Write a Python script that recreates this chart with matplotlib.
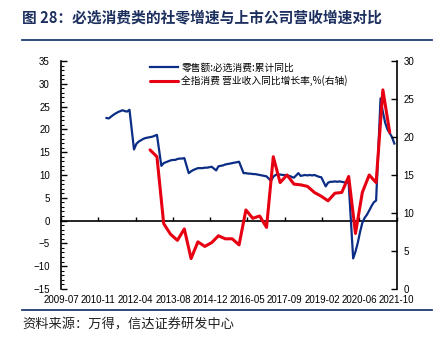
import matplotlib.pyplot as plt
import matplotlib.dates as mdates
from matplotlib.lines import Line2D
from matplotlib.ticker import MultipleLocator
import numpy as np
import pandas as pd

plt.rcParams['font.family'] = ['Noto Sans CJK SC', 'DejaVu Sans']
plt.rcParams['axes.unicode_minus'] = True

# 零售额:必选消费:累计同比 (monthly, Feb..Dec, no January value)
retail_2011 = [22.5, 22.4, 22.8, 23.2, 23.5, 23.8, 24.0, 24.2, 24.0, 23.9, 24.3]
retail_2012 = [15.6, 16.8, 17.3, 17.6, 17.9, 18.1, 18.2, 18.3, 18.4, 18.6, 18.8]
retail_2013 = [12.0, 12.6, 12.8, 13.0, 13.2, 13.3, 13.3, 13.5, 13.6, 13.6, 13.7]
retail_2014 = [10.4, 10.8, 11.1, 11.3, 11.5, 11.5, 11.5, 11.6, 11.6, 11.7, 11.8]
retail_2015 = [11.0, 11.9, 12.0, 12.1, 12.3, 12.4, 12.5, 12.6, 12.7, 12.8, 12.9]
retail_2016 = [10.4, 10.4, 10.3, 10.3, 10.2, 10.2, 10.1, 10.0, 9.9, 9.8, 9.7]
retail_2017 = [8.7, 9.6, 10.0, 10.1, 10.1, 10.0, 10.0, 9.9, 9.8, 9.6, 9.4]
retail_2018 = [10.4, 9.8, 9.9, 10.0, 9.9, 10.0, 9.9, 10.0, 9.8, 9.6, 9.5]
retail_2019 = [7.5, 8.3, 8.5, 8.5, 8.6, 8.5, 8.6, 8.5, 8.4, 8.4, 8.2]
retail_2020 = [-8.3, -6.8, -4.9, -2.5, -0.5, 0.6, 1.3, 2.2, 3.2, 4.0, 4.4]
retail_2021 = [26.8, 23.8, 21.5, 20.0, 19.2, 18.3, 16.9]

# 全指消费 营业收入同比增长率 (quarterly, 2012Q3..2021Q2), right axis
revenue = [18.3, 17.4,
           8.6, 7.2, 6.4, 7.9,
           4.0, 6.2, 5.6, 6.1,
           7.0, 6.6, 6.6, 5.8,
           10.4, 9.3, 9.6, 8.1,
           17.4, 14.0, 15.0, 13.8,
           13.7, 13.5, 12.7, 12.2,
           11.6, 12.6, 12.7, 14.8,
           7.3, 12.7, 15.0, 14.0,
           26.2, 20.6]

xtick_labels = ['2009-07', '2010-11', '2012-04', '2013-08', '2014-12',
                '2016-05', '2017-09', '2019-02', '2020-06', '2021-10']

retail = (retail_2011 + retail_2012 + retail_2013 + retail_2014 + retail_2015 +
          retail_2016 + retail_2017 + retail_2018 + retail_2019 + retail_2020 +
          retail_2021)
retail_dates = pd.date_range('2011-02-28', '2021-08-31', freq='ME')
retail_dates = retail_dates[retail_dates.month != 1]
revenue_dates = pd.date_range('2012-09-30', '2021-06-30', freq='QE')

navy = '#0b2d86'
red = '#e60012'

fig = plt.figure(figsize=(4.44, 3.44), dpi=100)
ax = fig.add_axes([0.1374, 0.160, 0.756, 0.6627])

ax.plot(retail_dates, retail, color=navy, lw=1.6, solid_joinstyle='round',
        label='零售额:必选消费:累计同比')
ax2 = ax.twinx()
ax2.plot(revenue_dates, revenue, color=red, lw=2.2, solid_joinstyle='round',
         solid_capstyle='round', label='全指消费 营业收入同比增长率,%(右轴)')

x0 = mdates.date2num(pd.Timestamp('2009-07-01'))
x1 = mdates.date2num(pd.Timestamp('2021-10-01'))
ticks = np.linspace(x0, x1, len(xtick_labels))
ax.set_xlim(x0, x1)
ax.set_xticks(ticks)
ax.set_xticklabels(xtick_labels)
ax.tick_params(axis='x', length=0, labelsize=7, pad=4)

ax.set_ylim(-15, 35)
ax.set_yticks(range(-15, 36, 5))
ax.yaxis.set_minor_locator(MultipleLocator(1))
ax.tick_params(axis='y', which='major', direction='in', length=4, width=1,
               labelsize=7, pad=8)
ax.tick_params(axis='y', which='minor', direction='in', length=2, width=0.8)

ax2.set_ylim(0, 30)
ax2.set_yticks(range(0, 31, 5))
ax2.tick_params(axis='y', direction='in', length=4, width=1, labelsize=7, pad=5)

for s in ['top', 'bottom', 'right']:
    ax.spines[s].set_visible(False)
for s in ['top', 'bottom', 'left']:
    ax2.spines[s].set_visible(False)
ax.spines['left'].set_linewidth(1.2)
ax2.spines['right'].set_linewidth(1.2)

# zero line with tick marks
sec = ax.secondary_xaxis(0.3)
sec.set_xticks(ticks)
sec.tick_params(direction='in', length=3, width=1, labelbottom=False)
sec.spines['bottom'].set_linewidth(1.2)

for lbl in ax.get_xticklabels() + ax.get_yticklabels() + ax2.get_yticklabels():
    lbl.set_fontfamily(['Liberation Sans', 'DejaVu Sans'])

h1, l1 = ax.get_legend_handles_labels()
h2, l2 = ax2.get_legend_handles_labels()
ax2.legend(h1 + h2, l1 + l2, loc='upper left', bbox_to_anchor=(0.24, 1.03),
           frameon=False, fontsize=7, handlelength=2.8, handletextpad=0.4,
           labelspacing=0.25)

fig.text(0.05, 0.948, '图 28：必选消费类的社零增速与上市公司营收增速对比',
         fontsize=10.6, fontweight='bold', color='#1c2f5e', va='center')
fig.add_artist(Line2D([0.05, 0.973], [0.884, 0.884], color='#1f3b73', lw=1.3))
fig.add_artist(Line2D([0.05, 0.973], [0.099, 0.099], color='#1f3b73', lw=1.3))
fig.text(0.05, 0.055, '资料来源：万得，信达证券研发中心', fontsize=9.5,
         style='italic', color='#222222', va='center')

fig.savefig('out.png', dpi=100)
